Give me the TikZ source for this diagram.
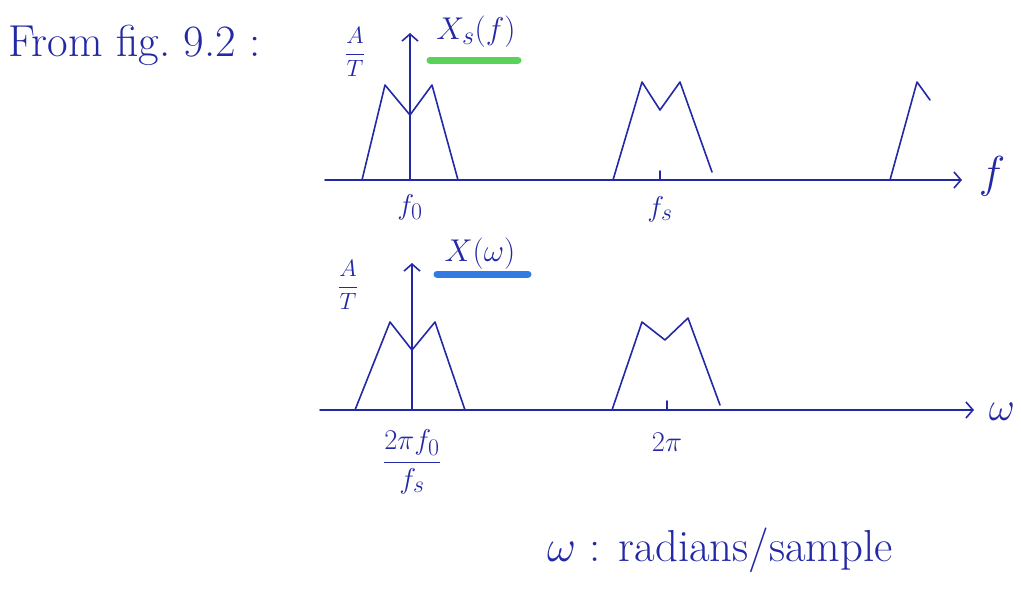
\documentclass[tikz,border=0pt]{standalone}
\usepackage{tikz}
\usetikzlibrary{arrows.meta,positioning}

\definecolor{ink}{RGB}{35,40,165}
\definecolor{hlgreen}{RGB}{70,205,70}
\definecolor{hlblue}{RGB}{25,110,225}

\tikzset{
  pen/.style={ink, line width=1.6pt, line join=round, line cap=round},
  lbl/.style={ink, inner sep=1pt, font=\Huge, scale=1.15, transform shape},
  small lbl/.style={ink, inner sep=1pt, font=\Huge, scale=0.95, transform shape},
  big/.style={ink, inner sep=1pt, font=\Huge, scale=1.8, transform shape},
  hilite/.style={line width=7pt, line cap=round, opacity=0.9},
  tip/.style={-{Straight Barb[length=7pt, width=16pt, line width=1.6pt]}}
}

\begin{document}
\begin{tikzpicture}[x=1pt, y=-1pt, >=stealth]
  \useasboundingbox (0,0) rectangle (1021,590);

  % Title
  \node[big, anchor=west] (title) at (6,45) {From fig.\ 9.2 :};

  % Upper axes
  \coordinate (fa0) at (325,180);
  \coordinate (fa1) at (962,180);
  \coordinate (fv0) at (410,180);
  \coordinate (fv1) at (410,33);
  \draw[pen, tip] (fa0) -- (fa1);
  \draw[pen, tip] (fv0) -- (fv1);
  \node[big] (fax) at (992,176) {$f$};
  \node[small lbl] (famp) at (355,52) {$\displaystyle\frac{A}{T}$};
  \draw[hlgreen, hilite] (430,60) -- (518,60);
  \node[lbl, scale=1.1] (xs) at (476,32) {$X_s(f)$};

  % Upper spectrum
  \draw[pen] (362,180) -- (385,85) -- (410,115) -- (432,85) -- (458,180);
  \draw[pen] (613,180) -- (642,82) -- (660,110) -- (680,82) -- (712,172);
  \draw[pen] (890,180) -- (917,82) -- (930,100);
  \draw[pen] (660,171) -- (660,180);
  \node[lbl] (f0) at (410,207) {$f_0$};
  \node[lbl] (fs) at (660,209) {$f_s$};

  % Lower axes
  \coordinate (wa0) at (320,410);
  \coordinate (wa1) at (974,410);
  \coordinate (wv0) at (412,410);
  \coordinate (wv1) at (412,263);
  \draw[pen, tip] (wa0) -- (wa1);
  \draw[pen, tip] (wv0) -- (wv1);
  \node[big, scale=0.9] (wax) at (1002,412) {$\omega$};
  \node[small lbl] (wamp) at (348,285) {$\displaystyle\frac{A}{T}$};
  \draw[hlblue, hilite] (437,274) -- (528,274);
  \node[lbl, scale=1.1] (xw) at (480,254) {$X(\omega)$};

  % Lower spectrum
  \draw[pen] (355,410) -- (390,322) -- (412,350) -- (435,322) -- (465,410);
  \draw[pen] (612,410) -- (642,322) -- (665,340) -- (688,318) -- (720,405);
  \draw[pen] (667,401) -- (667,410);
  \node[lbl] (w0) at (412,462) {$\displaystyle\frac{2\pi f_0}{f_s}$};
  \node[lbl] (tpi) at (667,442) {$2\pi$};

  % Note
  \node[big, anchor=west] (note) at (545,550) {$\omega$ : radians/sample};
\end{tikzpicture}
\end{document}
